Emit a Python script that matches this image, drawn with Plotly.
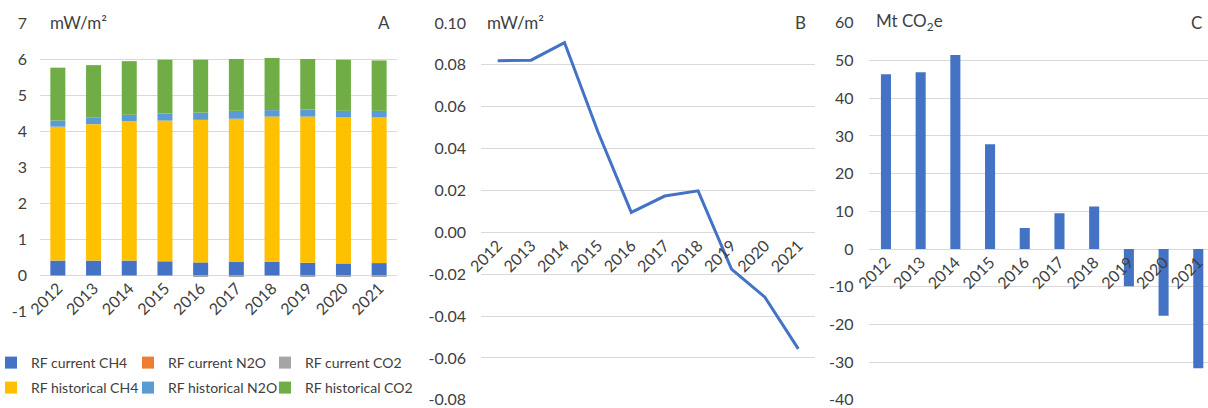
import plotly.graph_objects as go

years = ["2012", "2013", "2014", "2015", "2016", "2017", "2018", "2019", "2020", "2021"]

# Panel A: radiative forcing components (mW/m2)
rf_current_ch4 = [0.40, 0.40, 0.40, 0.38, 0.35, 0.36, 0.37, 0.34, 0.32, 0.33]
rf_current_n2o = [0.00, 0.00, 0.00, 0.00, 0.00, 0.00, 0.00, 0.00, 0.00, 0.00]
rf_current_co2 = [-0.01, -0.01, -0.01, -0.02, -0.03, -0.03, -0.02, -0.03, -0.03, -0.03]
rf_hist_ch4 = [3.72, 3.79, 3.87, 3.91, 3.96, 3.98, 4.03, 4.06, 4.06, 4.05]
rf_hist_n2o = [0.17, 0.18, 0.18, 0.20, 0.20, 0.22, 0.18, 0.20, 0.18, 0.18]
rf_hist_co2 = [1.47, 1.46, 1.49, 1.49, 1.47, 1.44, 1.45, 1.40, 1.42, 1.40]

# Panel B: change in RF (mW/m2)
rf_change = [0.0819, 0.0822, 0.0906, 0.048, 0.0095, 0.0173, 0.0198, -0.0176, -0.031, -0.0557]

# Panel C: Mt CO2e
mt_co2e = [46.4, 46.9, 51.5, 27.8, 5.6, 9.5, 11.3, -9.9, -17.7, -31.6]

# Tick labels
ticks_a = [-1, 0, 1, 2, 3, 4, 5, 6, 7]
ticklabels_a = ["-1", "0", "1", "2", "3", "4", "5", "6", "7"]
ticks_b = [-0.08, -0.06, -0.04, -0.02, 0.0, 0.02, 0.04, 0.06, 0.08, 0.10]
ticklabels_b = ["-0.08", "-0.06", "-0.04", "-0.02", "0.00", "0.02", "0.04", "0.06", "0.08", "0.10"]
ticks_c = [-40, -30, -20, -10, 0, 10, 20, 30, 40, 50, 60]
ticklabels_c = ["-40", "-30", "-20", "-10", "0", "10", "20", "30", "40", "50", "60"]

FONT = "Lato"
TXT = "#404040"
GRID = "#D9D9D9"
W, H = 1208, 408

def sx(a):
    return a / W

def sy(b):
    return 1 - b / H

def px_x(a, b):
    return [sx(a), sx(b)]

def px_y(top, bottom):
    return [sy(bottom), sy(top)]

fig = go.Figure()

# (name, values, colour, legend id, legend x px, legend top px)
series_a = [
    ("RF current CH4", rf_current_ch4, "#4472C4", "legend", -9, 347),
    ("RF current N2O", rf_current_n2o, "#ED7D31", "legend2", 128, 347),
    ("RF current CO2", rf_current_co2, "#A5A5A5", "legend3", 265, 347),
    ("RF historical CH4", rf_hist_ch4, "#FFC000", "legend4", -9, 372),
    ("RF historical N2O", rf_hist_n2o, "#5B9BD5", "legend5", 128, 372),
    ("RF historical CO2", rf_hist_co2, "#70AD47", "legend6", 265, 372),
]
legend_font = dict(family=FONT, size=14, color=TXT)
legend_layouts = {}
for name, vals, col, lg, lx, ly in series_a:
    fig.add_trace(go.Bar(x=years, y=vals, name=name, marker=dict(color=col, line=dict(width=0)),
                         width=0.42, xaxis="x", yaxis="y", legend=lg))
    legend_layouts[lg] = dict(orientation="h", x=sx(lx), y=sy(ly), xanchor="left", yanchor="top",
                              font=legend_font, bgcolor="rgba(0,0,0,0)", itemclick=False)

fig.add_trace(go.Scatter(x=years, y=rf_change, mode="lines", line=dict(color="#4472C4", width=3),
                         xaxis="x2", yaxis="y2", showlegend=False))

fig.add_trace(go.Bar(x=years, y=mt_co2e, marker=dict(color="#4472C4", line=dict(width=0)), width=0.29,
                     xaxis="x3", yaxis="y3", showlegend=False))

dA_x = px_x(40, 397); dA_y = px_y(23, 311)
dB_x = px_x(481, 815); dB_y = px_y(22.7, 400)
dC_x = px_x(868.6, 1208); dC_y = px_y(22.7, 400)

def zero_pos(dy, lo, hi):
    return dy[0] + (0 - lo) / (hi - lo) * (dy[1] - dy[0])

tickfont = dict(family=FONT, size=16, color=TXT)

common_x = dict(type="category", showgrid=False, showline=False, ticks="", tickangle=-45,
                tickfont=tickfont, anchor="free", fixedrange=True, automargin=False)
common_y = dict(showgrid=True, gridcolor=GRID, gridwidth=1, zeroline=False, showline=False,
                ticks="", tickfont=tickfont, automargin=False, tickmode="array",
                ticklabeloverflow="allow")

fig.update_layout(
    width=W, height=H, margin=dict(l=0, r=0, t=0, b=0, autoexpand=False),
    paper_bgcolor="white", plot_bgcolor="white",
    barmode="relative",
    font=dict(family=FONT, color=TXT),
    xaxis=dict(domain=dA_x, range=[-0.5, 9.5], position=zero_pos(dA_y, -1, 7), **common_x),
    yaxis=dict(domain=dA_y, range=[-1, 7], tickvals=ticks_a, ticktext=ticklabels_a,
               ticklabelstandoff=12, **common_y),
    xaxis2=dict(domain=dB_x, range=[-0.5, 9.5], position=zero_pos(dB_y, -0.08, 0.10), **common_x),
    yaxis2=dict(domain=dB_y, range=[-0.0801, 0.1001], tickvals=ticks_b, ticktext=ticklabels_b, anchor="x2",
                ticklabelstandoff=14, **common_y),
    xaxis3=dict(domain=dC_x, range=[-0.5, 9.28], position=zero_pos(dC_y, -40, 60), **common_x),
    yaxis3=dict(domain=dC_y, range=[-40.05, 60.05], tickvals=ticks_c, ticktext=ticklabels_c, anchor="x3",
                ticklabelstandoff=14, **common_y),
    **legend_layouts,
)

ann_font = dict(family=FONT, size=17, color=TXT)
anns = [
    dict(text="mW/m²", x=sx(48), xanchor="left"),
    dict(text="A", x=sx(392), xanchor="right"),
    dict(text="mW/m²", x=sx(485), xanchor="left"),
    dict(text="B", x=sx(808), xanchor="right"),
    dict(text="Mt CO<sub>2</sub>e", x=sx(874), xanchor="left"),
    dict(text="C", x=sx(1204), xanchor="right"),
]
for a in anns:
    a.update(xref="paper", yref="paper", y=sy(22), yanchor="middle", showarrow=False,
             font=ann_font, bgcolor="white")
fig.update_layout(annotations=anns)

# remove the default 8px page margin so the 1208x408 figure fills the window exactly
fig.write_html("out.html", config={"displayModeBar": False},
               post_script="document.body.style.margin='0';document.body.style.overflow='hidden';")
